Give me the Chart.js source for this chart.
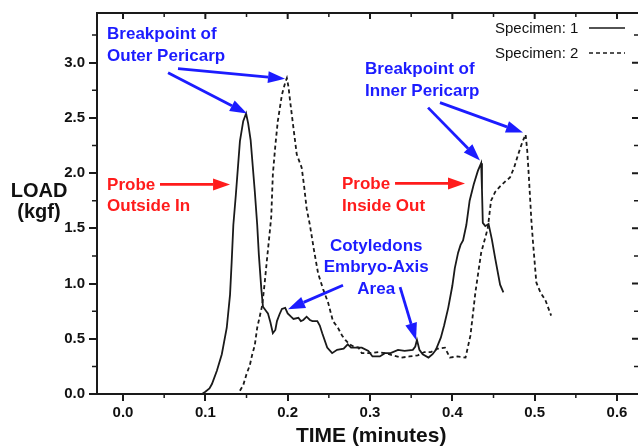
<!DOCTYPE html>
<html>
<head>
<meta charset="utf-8">
<script src="https://cdn.jsdelivr.net/npm/chart.js@4.4.1/dist/chart.umd.min.js"></script>
<style>
  html, body { margin: 0; padding: 0; background: #fff; overflow: hidden; }
  canvas { display: block; }
</style>
</head>
<body>
<canvas id="loadChart" width="638" height="448"></canvas>
<script>
// Specimen 1 (solid)
const time1 = [0.096, 0.100, 0.105, 0.108, 0.114, 0.120, 0.126, 0.130, 0.132, 0.134, 0.137, 0.142, 0.146, 0.1495,
    0.152, 0.155, 0.160, 0.163, 0.165, 0.168, 0.170, 0.174, 0.176, 0.179, 0.182, 0.185, 0.187, 0.190, 0.193, 0.197,
    0.200, 0.204, 0.207, 0.213, 0.216, 0.219, 0.223, 0.227, 0.230, 0.236, 0.239, 0.242, 0.248, 0.254, 0.260, 0.268,
    0.273, 0.277, 0.282, 0.290, 0.298, 0.303, 0.312, 0.318, 0.325, 0.334, 0.342, 0.352, 0.355, 0.357, 0.360, 0.364,
    0.371, 0.376, 0.380, 0.386, 0.390, 0.395, 0.400, 0.403, 0.407, 0.410, 0.413, 0.417, 0.421, 0.426, 0.431, 0.435,
    0.436, 0.437, 0.440, 0.444, 0.448, 0.452, 0.458, 0.462];
const load1 = [0.00, 0.02, 0.05, 0.09, 0.21, 0.36, 0.60, 0.90, 1.20, 1.53, 1.80, 2.29, 2.47, 2.54,
    2.45, 2.30, 1.84, 1.53, 1.26, 0.95, 0.79, 0.75, 0.73, 0.65, 0.55, 0.58, 0.66, 0.72, 0.77, 0.78,
    0.73, 0.70, 0.68, 0.69, 0.66, 0.67, 0.70, 0.67, 0.66, 0.66, 0.62, 0.55, 0.42, 0.37, 0.40, 0.41,
    0.45, 0.42, 0.42, 0.42, 0.39, 0.34, 0.34, 0.37, 0.37, 0.40, 0.39, 0.40, 0.43, 0.49, 0.40, 0.36,
    0.33, 0.36, 0.40, 0.51, 0.62, 0.78, 0.98, 1.14, 1.28, 1.35, 1.39, 1.53, 1.75, 1.90, 2.02, 2.09,
    1.85, 1.55, 1.52, 1.54, 1.40, 1.23, 0.99, 0.92];

// Specimen 2 (dashed)
const time2 = [0.142, 0.146, 0.150, 0.154, 0.157, 0.160, 0.163, 0.166, 0.169, 0.172, 0.175, 0.178, 0.180, 0.182,
    0.185, 0.188, 0.193, 0.197, 0.199, 0.201, 0.203, 0.207, 0.211, 0.217, 0.220, 0.223, 0.227, 0.232, 0.237, 0.243,
    0.249, 0.255, 0.261, 0.266, 0.270, 0.275, 0.280, 0.286, 0.290, 0.300, 0.310, 0.318, 0.328, 0.338, 0.348, 0.358,
    0.366, 0.374, 0.382, 0.391, 0.397, 0.406, 0.416, 0.422, 0.428, 0.435, 0.443, 0.447, 0.452, 0.458, 0.465, 0.470,
    0.475, 0.480, 0.485, 0.489, 0.491, 0.493, 0.496, 0.498, 0.502, 0.507, 0.513, 0.520];
const load2 = [0.03, 0.08, 0.18, 0.26, 0.36, 0.44, 0.60, 0.70, 0.80, 1.00, 1.23, 1.45, 1.60, 1.99,
    2.25, 2.47, 2.71, 2.82, 2.86, 2.78, 2.65, 2.41, 2.17, 2.05, 1.88, 1.68, 1.53, 1.30, 1.09, 0.95,
    0.83, 0.66, 0.60, 0.53, 0.49, 0.45, 0.43, 0.42, 0.37, 0.37, 0.38, 0.37, 0.35, 0.33, 0.34, 0.35,
    0.38, 0.38, 0.41, 0.42, 0.33, 0.34, 0.33, 0.53, 0.92, 1.28, 1.50, 1.75, 1.83, 1.88, 1.93, 1.96,
    2.05, 2.17, 2.28, 2.35, 2.20, 1.96, 1.57, 1.37, 1.01, 0.92, 0.85, 0.71];

const xTicks = [0.0, 0.1, 0.2, 0.3, 0.4, 0.5, 0.6];
const xMinorTicks = [0.05, 0.15, 0.25, 0.35, 0.45, 0.55];
const yTicks = [0.0, 0.5, 1.0, 1.5, 2.0, 2.5, 3.0];
const yMinorTicks = [0.25, 0.75, 1.25, 1.75, 2.25, 2.75, 3.25];

const seriesNames = ['Specimen: 1', 'Specimen: 2'];

// annotations in data units: text lines, x, baseline y of each line
const BLUE = '#1c1cff';
const RED = '#ff1c1c';
const labels = [
    { lines: ['Breakpoint of', 'Outer Pericarp'], x: -0.0194, y: [3.217, 3.018], align: 'left', color: BLUE },
    { lines: ['Probe', 'Outside In'], x: -0.0194, y: [1.843, 1.654], align: 'left', color: RED },
    { lines: ['Breakpoint of', 'Inner Pericarp'], x: 0.294, y: [2.90, 2.702], align: 'left', color: BLUE },
    { lines: ['Probe', 'Inside Out'], x: 0.266, y: [1.852, 1.654], align: 'left', color: RED },
    { lines: ['Cotyledons', 'Embryo-Axis', 'Area'], x: 0.3075, y: [1.292, 1.102, 0.904], align: 'center', color: BLUE }
];
const arrows = [
    { from: [0.0547, 2.91], to: [0.1506, 2.539], color: BLUE },
    { from: [0.0668, 2.946], to: [0.1968, 2.855], color: BLUE },
    { from: [0.3705, 2.593], to: [0.4336, 2.114], color: BLUE },
    { from: [0.385, 2.638], to: [0.4858, 2.367], color: BLUE },
    { from: [0.2672, 0.985], to: [0.2004, 0.768], color: BLUE },
    { from: [0.3365, 0.967], to: [0.3559, 0.488], color: BLUE },
    { from: [0.0449, 1.898], to: [0.130, 1.898], color: RED },
    { from: [0.3304, 1.907], to: [0.4154, 1.907], color: RED }
];

const INK = '#1a1a1a';
const tickFont = { family: '"Liberation Sans", Arial, sans-serif', size: 15, weight: 'bold' };

function drawArrow(ctx, x1, y1, x2, y2, color) {
    const ang = Math.atan2(y2 - y1, x2 - x1);
    const headLen = 17, headHalf = 6;
    const bx = x2 - headLen * Math.cos(ang);
    const by = y2 - headLen * Math.sin(ang);
    ctx.save();
    ctx.strokeStyle = color;
    ctx.fillStyle = color;
    ctx.lineWidth = 2.8;
    ctx.beginPath();
    ctx.moveTo(x1, y1);
    ctx.lineTo(bx, by);
    ctx.stroke();
    ctx.beginPath();
    ctx.moveTo(x2, y2);
    ctx.lineTo(bx + headHalf * Math.sin(ang), by - headHalf * Math.cos(ang));
    ctx.lineTo(bx - headHalf * Math.sin(ang), by + headHalf * Math.cos(ang));
    ctx.closePath();
    ctx.fill();
    ctx.restore();
}

const framePlugin = {
    id: 'frame',
    afterDraw(chart) {
        const { ctx, chartArea: a, scales: { x, y } } = chart;
        ctx.save();
        ctx.strokeStyle = INK;

        // top border
        ctx.lineWidth = 2;
        ctx.beginPath();
        ctx.moveTo(a.left - 1, a.top);
        ctx.lineTo(a.right, a.top);
        ctx.stroke();

        // minor ticks outward, bottom and left
        ctx.lineWidth = 1.5;
        ctx.beginPath();
        xMinorTicks.forEach(v => {
            const px = x.getPixelForValue(v);
            ctx.moveTo(px, a.bottom); ctx.lineTo(px, a.bottom + 4);
        });
        yMinorTicks.forEach(v => {
            const py = y.getPixelForValue(v);
            ctx.moveTo(a.left, py); ctx.lineTo(a.left - 5, py);
        });
        // mirrored ticks inward, top and right
        xMinorTicks.forEach(v => {
            const px = x.getPixelForValue(v);
            ctx.moveTo(px, a.top); ctx.lineTo(px, a.top + 4);
        });
        yMinorTicks.forEach(v => {
            const py = y.getPixelForValue(v);
            ctx.moveTo(a.right, py); ctx.lineTo(a.right - 4, py);
        });
        ctx.stroke();
        ctx.lineWidth = 2;
        ctx.beginPath();
        xTicks.forEach(v => {
            const px = x.getPixelForValue(v);
            ctx.moveTo(px, a.top); ctx.lineTo(px, a.top + 6);
        });
        yTicks.forEach(v => {
            const py = y.getPixelForValue(v);
            ctx.moveTo(a.right, py); ctx.lineTo(a.right - 6, py);
        });
        ctx.stroke();

        // axis titles
        ctx.fillStyle = '#111';
        ctx.font = 'bold 21px "Liberation Sans", Arial, sans-serif';
        ctx.textAlign = 'center';
        ctx.textBaseline = 'alphabetic';
        ctx.fillText('TIME (minutes)', (x.getPixelForValue(0.3) + x.getPixelForValue(0.31)) / 2 - 3, 442);
        ctx.font = 'bold 20px "Liberation Sans", Arial, sans-serif';
        ctx.fillText('LOAD', 39, 197);
        ctx.fillText('(kgf)', 39, 218);

        // legend
        ctx.font = '15px "Liberation Sans", Arial, sans-serif';
        ctx.textAlign = 'left';
        ctx.fillText(seriesNames[0], 495, 33);
        ctx.fillText(seriesNames[1], 495, 58);
        ctx.lineWidth = 1.5;
        ctx.beginPath();
        ctx.moveTo(589, 28); ctx.lineTo(625, 28);
        ctx.stroke();
        ctx.setLineDash([4, 3]);
        ctx.beginPath();
        ctx.moveTo(589, 53); ctx.lineTo(625, 53);
        ctx.stroke();
        ctx.setLineDash([]);

        // annotations
        ctx.font = 'bold 17px "Liberation Sans", Arial, sans-serif';
        labels.forEach(l => {
            ctx.fillStyle = l.color;
            ctx.textAlign = l.align;
            l.lines.forEach((t, i) => ctx.fillText(t, x.getPixelForValue(l.x), y.getPixelForValue(l.y[i])));
        });
        arrows.forEach(ar => drawArrow(ctx,
            x.getPixelForValue(ar.from[0]), y.getPixelForValue(ar.from[1]),
            x.getPixelForValue(ar.to[0]), y.getPixelForValue(ar.to[1]), ar.color));

        ctx.restore();
    }
};

function toPoints(xs, ys) {
    return xs.map((t, i) => ({ x: t, y: ys[i] }));
}

new Chart(document.getElementById('loadChart'), {
    type: 'scatter',
    data: {
        datasets: [
            {
                label: seriesNames[0],
                data: toPoints(time1, load1),
                showLine: true,
                borderColor: INK,
                borderWidth: 1.8,
                pointRadius: 0,
                tension: 0
            },
            {
                label: seriesNames[1],
                data: toPoints(time2, load2),
                showLine: true,
                borderColor: INK,
                borderWidth: 1.8,
                borderDash: [4, 3],
                pointRadius: 0,
                tension: 0
            }
        ]
    },
    options: {
        responsive: false,
        animation: false,
        layout: { padding: { top: 12, left: 0, right: 0, bottom: 0 } },
        plugins: { legend: { display: false }, tooltip: { enabled: false } },
        scales: {
            x: {
                type: 'linear',
                min: -0.0316,
                max: 0.6255,
                afterFit: s => { s.height = 54; },
                afterBuildTicks: s => { s.ticks = xTicks.map(v => ({ value: v })); },
                ticks: {
                    includeBounds: false,
                    autoSkip: false,
                    maxRotation: 0,
                    padding: 3,
                    color: '#111',
                    font: tickFont,
                    callback: v => v.toFixed(1)
                },
                grid: { drawOnChartArea: false, drawTicks: true, tickLength: 7, color: INK, lineWidth: 2 },
                border: { display: true, color: INK, width: 2 }
            },
            y: {
                type: 'linear',
                min: 0,
                max: 3.45,
                afterFit: s => { s.width = 97; },
                afterBuildTicks: s => { s.ticks = yTicks.map(v => ({ value: v })); },
                ticks: {
                    includeBounds: false,
                    autoSkip: false,
                    padding: 4,
                    color: '#111',
                    font: tickFont,
                    callback: v => v.toFixed(1)
                },
                grid: { drawOnChartArea: false, drawTicks: true, tickLength: 8, color: INK, lineWidth: 2 },
                border: { display: true, color: INK, width: 2 }
            }
        }
    },
    plugins: [framePlugin]
});
</script>
</body>
</html>
